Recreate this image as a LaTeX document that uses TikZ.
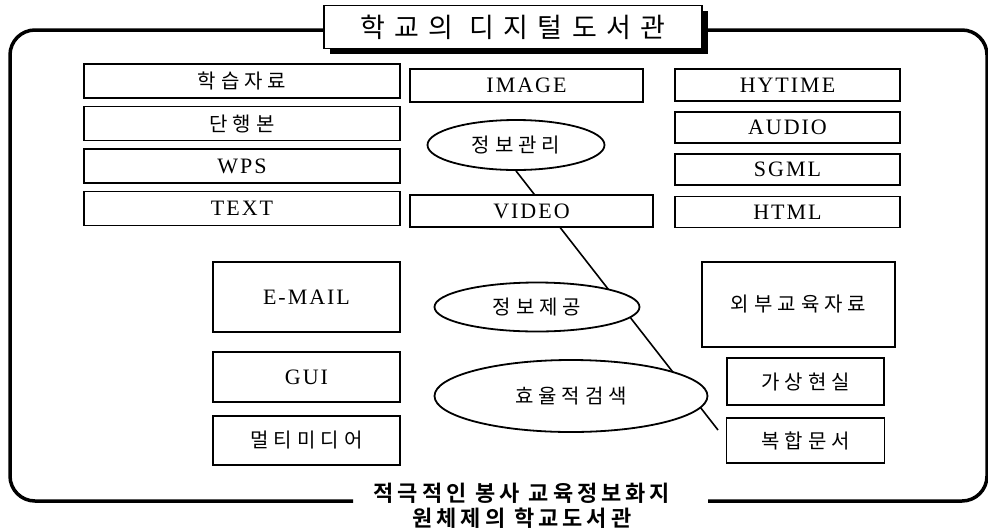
\documentclass[tikz,border=0pt]{standalone}
\usepackage{fontspec}
\setmainfont{Liberation Serif}
\newfontfamily\latinfont{Liberation Serif}[LetterSpace=9]
\newfontfamily\krfont{Noto Sans CJK KR}[LetterSpace=25]
\newfontfamily\krtitlefont{Noto Sans CJK KR}[LetterSpace=35]
\newfontfamily\krboldfont{Noto Sans CJK KR Bold}[LetterSpace=18]
\usetikzlibrary{positioning, shapes.geometric, shadows, backgrounds}
\newcommand\boxlatin{\latinfont\fontsize{22}{24}\selectfont}
\newcommand\boxkr{\krfont\fontsize{20}{22}\selectfont}
\tikzset{
  frame/.style={line width=3.5pt, rounded corners=25pt},
  box/.style={draw, line width=1.5pt, fill=white, inner sep=0pt, outer sep=0pt},
  latbox/.style={box, font=\boxlatin},
  krbox/.style={box, font=\boxkr},
  oval/.style={ellipse, draw, line width=1.8pt, fill=white, inner sep=0pt, font=\boxkr},
  link/.style={line width=1.6pt}
}

\begin{document}
\begin{tikzpicture}[x=1pt, y=-1pt]
  \useasboundingbox (0,0) rectangle (988,531);
  % outer frame, open at the bottom for the caption
  \draw[frame] (353,501) -- (10,501) -- (10,30) -- (987,30) -- (987,501) -- (708,501);

  % title
  \node[box, line width=1.6pt, minimum width=378pt, minimum height=43pt,
        drop shadow={shadow xshift=6pt, shadow yshift=-5pt, fill=black, opacity=1},
        font=\krtitlefont\fontsize{27}{29}\selectfont] (title) at (513,27) {학교의 디지털도서관};

  % left column
  \node[krbox, minimum width=316pt, minimum height=34pt] (study) at (242,81) {학습자료};
  \node[krbox, minimum width=316pt, minimum height=34pt] (book) [below=8.5pt of study] {단행본};
  \node[latbox, minimum width=316pt, minimum height=34pt] (wps) [below=8.5pt of book] {WPS};
  \node[latbox, minimum width=316pt, minimum height=34pt] (text) [below=8.5pt of wps] {TEXT};

  % middle column
  \node[latbox, minimum width=233pt, minimum height=33pt] (image) at (526.5,85.5) {IMAGE};
  \node[latbox, minimum width=243pt, minimum height=32pt] (video) at (531.5,211) {VIDEO};

  % right column
  \node[latbox, minimum width=225pt, minimum height=32pt] (hytime) at (787.5,85) {HYTIME};
  \node[latbox, minimum width=225pt, minimum height=31pt] (audio) [below=11pt of hytime] {AUDIO};
  \node[latbox, minimum width=225pt, minimum height=31pt] (sgml) [below=11pt of audio] {SGML};
  \node[latbox, minimum width=225pt, minimum height=31pt] (html) [below=11.5pt of sgml] {HTML};

  % ovals
  \node[oval, minimum width=177pt, minimum height=50pt] (manage) at (516,145) {정보관리};
  \node[oval, minimum width=205pt, minimum height=49pt] (offer) at (537,307) {정보제공};
  \node[oval, minimum width=273pt, minimum height=72pt] (search) at (571,396) {효율적검색};

  % lower left
  \node[latbox, minimum width=187pt, minimum height=70pt] (email) at (306.5,297) {E-MAIL};
  \node[latbox, minimum width=187pt, minimum height=50pt] (gui) [below=20pt of email] {GUI};
  \node[krbox, minimum width=187pt, minimum height=49pt] (multi) [below=14pt of gui] {멀티미디어};

  % lower right
  \node[krbox, minimum width=193pt, minimum height=85pt] (extern) at (798.5,304.5) {외부교육자료};
  \node[krbox, minimum width=157pt, minimum height=47pt] (virtual) at (805.5,381.5) {가상현실};
  \node[krbox, minimum width=158pt, minimum height=45pt] (compound) [below=13pt of virtual] {복합문서};

  % caption
  \node[align=center, inner sep=0pt, font=\krboldfont\fontsize{22}{25}\selectfont] (caption) at (522,505.5)
    {적극적인 봉사 교육정보화지\\원체제의 학교도서관};

  % line through the ovals
  \coordinate (tail) at (718,430);
  \begin{scope}[on background layer]
    \draw[link] (manage.south) -- (tail);
  \end{scope}
\end{tikzpicture}
\end{document}
